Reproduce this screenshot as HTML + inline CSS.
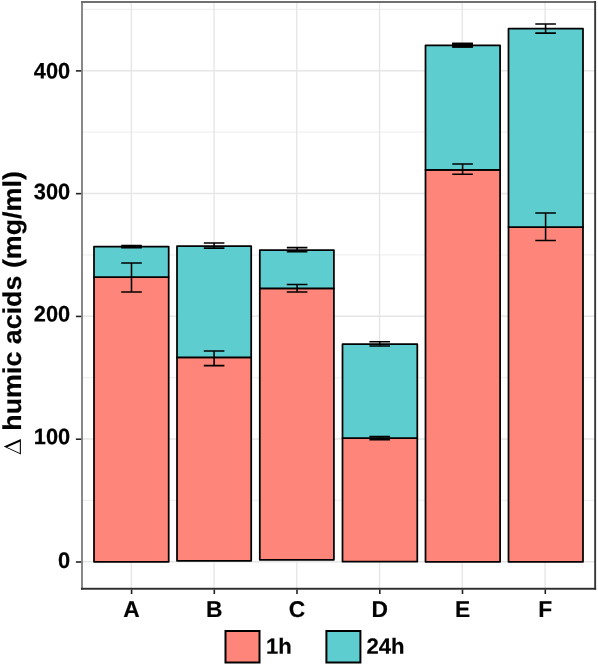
<!DOCTYPE html>
<html lang="en"><head><meta charset="utf-8"><title>chart</title>
<style>html,body{margin:0;padding:0;background:#fff;}body{width:598px;height:666px;overflow:hidden;}svg{display:block;}text{font-family:"Liberation Sans",sans-serif;font-weight:bold;fill:#000;text-rendering:geometricPrecision;stroke:#000;stroke-width:0.2px;stroke-linejoin:round;}g.t{opacity:0.999;}</style></head><body>
<svg width="598" height="666" viewBox="0 0 598 666">
<rect x="0" y="0" width="598" height="666" fill="#ffffff"/>
<g stroke="#f0f0f0" stroke-width="1.2">
<line x1="82.0" x2="595.2" y1="500.41" y2="500.41"/>
<line x1="82.0" x2="595.2" y1="377.63" y2="377.63"/>
<line x1="82.0" x2="595.2" y1="254.85" y2="254.85"/>
<line x1="82.0" x2="595.2" y1="132.07" y2="132.07"/>
<line x1="82.0" x2="595.2" y1="9.29" y2="9.29"/>
</g>
<g stroke="#e6e6e6" stroke-width="1.4">
<line x1="82.0" x2="595.2" y1="561.80" y2="561.80"/>
<line x1="82.0" x2="595.2" y1="439.02" y2="439.02"/>
<line x1="82.0" x2="595.2" y1="316.24" y2="316.24"/>
<line x1="82.0" x2="595.2" y1="193.46" y2="193.46"/>
<line x1="82.0" x2="595.2" y1="70.68" y2="70.68"/>
<line x1="131.35" x2="131.35" y1="2.0" y2="588.7"/>
<line x1="214.05" x2="214.05" y1="2.0" y2="588.7"/>
<line x1="296.75" x2="296.75" y1="2.0" y2="588.7"/>
<line x1="379.55" x2="379.55" y1="2.0" y2="588.7"/>
<line x1="462.25" x2="462.25" y1="2.0" y2="588.7"/>
<line x1="545.05" x2="545.05" y1="2.0" y2="588.7"/>
</g>
<g stroke="#000" stroke-width="1.75" stroke-linejoin="round">
<rect x="94.0" y="277.2" width="74.70" height="284.60" fill="#FD8579"/>
<rect x="94.0" y="246.6" width="74.70" height="30.60" fill="#5DCDCF"/>
<rect x="177.0" y="357.4" width="74.20" height="203.40" fill="#FD8579"/>
<rect x="177.0" y="246.0" width="74.20" height="111.40" fill="#5DCDCF"/>
<rect x="259.8" y="288.4" width="74.10" height="271.40" fill="#FD8579"/>
<rect x="259.8" y="250.0" width="74.10" height="38.40" fill="#5DCDCF"/>
<rect x="342.5" y="438.2" width="74.80" height="123.50" fill="#FD8579"/>
<rect x="342.5" y="344.0" width="74.80" height="94.20" fill="#5DCDCF"/>
<rect x="425.5" y="169.8" width="74.60" height="392.00" fill="#FD8579"/>
<rect x="425.5" y="45.3" width="74.60" height="124.50" fill="#5DCDCF"/>
<rect x="508.5" y="227.0" width="74.50" height="334.80" fill="#FD8579"/>
<rect x="508.5" y="28.7" width="74.50" height="198.30" fill="#5DCDCF"/>
</g>
<g stroke="#000" stroke-width="1.55" fill="none">
<path d="M121.20 263.0H141.80M121.20 292.0H141.80M131.5 263.0V292.0"/>
<path d="M121.20 245.6H141.80M121.20 247.6H141.80M131.5 245.6V247.6"/>
<path d="M203.80 350.9H224.40M203.80 365.6H224.40M214.1 350.9V365.6"/>
<path d="M203.80 243.0H224.40M203.80 248.1H224.40M214.1 243.0V248.1"/>
<path d="M286.80 284.4H307.40M286.80 291.9H307.40M297.1 284.4V291.9"/>
<path d="M286.80 247.6H307.40M286.80 251.7H307.40M297.1 247.6V251.7"/>
<path d="M369.40 436.6H390.00M369.40 439.8H390.00M379.7 436.6V439.8"/>
<path d="M369.40 341.7H390.00M369.40 345.9H390.00M379.7 341.7V345.9"/>
<path d="M452.30 163.9H472.90M452.30 174.3H472.90M462.6 163.9V174.3"/>
<path d="M452.30 43.5H472.90M452.30 46.9H472.90M462.6 43.5V46.9"/>
<path d="M535.30 212.9H555.90M535.30 240.5H555.90M545.6 212.9V240.5"/>
<path d="M535.30 23.9H555.90M535.30 33.1H555.90M545.6 23.9V33.1"/>
</g>
<rect x="452.1" y="42.7" width="20.9" height="4.9" fill="#000"/>
<rect x="81" y="1" width="2" height="588.7" fill="#888888"/>
<rect x="81" y="1" width="515" height="2" fill="#707070"/>
<rect x="594.2" y="1" width="1.9" height="588.7" fill="#383838"/>
<rect x="81" y="587.8" width="515.1" height="1.9" fill="#2c2c2c"/>
<g stroke="#222" stroke-width="1.6">
<line x1="75.9" x2="81.2" y1="562.00" y2="562.00"/>
<line x1="75.9" x2="81.2" y1="439.22" y2="439.22"/>
<line x1="75.9" x2="81.2" y1="316.44" y2="316.44"/>
<line x1="75.9" x2="81.2" y1="193.66" y2="193.66"/>
<line x1="75.9" x2="81.2" y1="70.88" y2="70.88"/>
<line x1="131.6" x2="131.6" y1="589.5" y2="594"/>
<line x1="214.3" x2="214.3" y1="589.5" y2="594"/>
<line x1="297.0" x2="297.0" y1="589.5" y2="594"/>
<line x1="379.8" x2="379.8" y1="589.5" y2="594"/>
<line x1="462.5" x2="462.5" y1="589.5" y2="594"/>
<line x1="545.3" x2="545.3" y1="589.5" y2="594"/>
</g>
<rect x="225.5" y="631" width="34.0" height="31.5" fill="#FD8579" stroke="#000" stroke-width="2"/>
<rect x="326.4" y="631" width="34.0" height="31.5" fill="#5DCDCF" stroke="#000" stroke-width="2"/>
<g class="t">
<text transform="translate(70.2,567.95) rotate(0.03) scale(1,1.03)" font-size="21.8" text-anchor="end">0</text>
<text transform="translate(70.2,444.35) rotate(0.03) scale(1,1.03)" font-size="21.8" text-anchor="end">100</text>
<text transform="translate(70.2,321.55) rotate(0.03) scale(1,1.03)" font-size="21.8" text-anchor="end">200</text>
<text transform="translate(70.2,199.25) rotate(0.03) scale(1,1.03)" font-size="21.8" text-anchor="end">300</text>
<text transform="translate(70.2,78.45) rotate(0.03) scale(1,1.03)" font-size="21.8" text-anchor="end">400</text>
<text transform="translate(131.6,617.05) rotate(0.03)" font-size="22.8" text-anchor="middle">A</text>
<text transform="translate(214.3,617.05) rotate(0.03)" font-size="22.8" text-anchor="middle">B</text>
<text transform="translate(297.0,617.05) rotate(0.03)" font-size="22.8" text-anchor="middle">C</text>
<text transform="translate(379.8,617.05) rotate(0.03)" font-size="22.8" text-anchor="middle">D</text>
<text transform="translate(462.5,617.05) rotate(0.03)" font-size="22.8" text-anchor="middle">E</text>
<text transform="translate(545.3,617.05) rotate(0.03)" font-size="22.8" text-anchor="middle">F</text>
<text transform="translate(21.2,430.7) rotate(-90) scale(1,0.96)" font-size="26.85" text-anchor="start">humic acids (mg/ml)</text>
<path fill="#000" fill-rule="evenodd" d="M3.75 446.4L20.9 439.0L20.9 454.5ZM7.26 447.17L19.8 441.76L19.8 453.1Z"/>
<text transform="translate(265.9,653.8) rotate(0.03)" font-size="22.1">1h</text>
<text transform="translate(366.4,653.8) rotate(0.03)" font-size="22.1">24h</text>
</g>
</svg></body></html>
